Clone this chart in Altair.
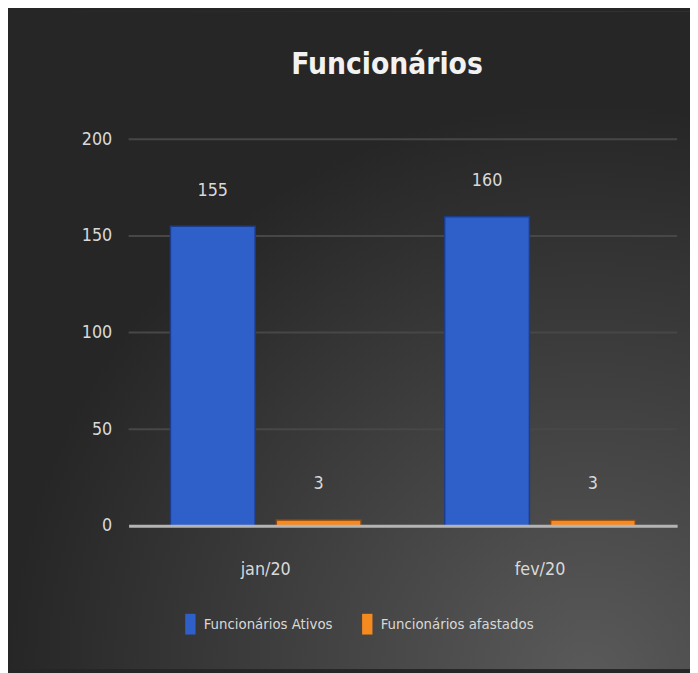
import altair as alt
import pandas as pd

months = ["jan/20", "fev/20"]
series = ["Funcionários Ativos", "Funcionários afastados"]
ativos = [155, 160]
afastados = [3, 3]
y_ticks = [0, 50, 100, 150, 200]

rows = []
for i, m in enumerate(months):
    rows.append({"mes": m, "serie": series[0], "valor": ativos[i]})
    rows.append({"mes": m, "serie": series[1], "valor": afastados[i]})
df = pd.DataFrame(rows)
grid_df = pd.DataFrame({"v": y_ticks[1:]})

FONT = "Liberation Sans Narrow, DejaVu Sans Condensed, Arial Narrow, sans-serif"
W, H = 555, 391
PAD = {"left": 122, "top": 129, "right": 13, "bottom": 145}

bg_grad = alt.Gradient(
    gradient="radial",
    stops=[alt.GradientStop(color="#5a5a5a", offset=0),
           alt.GradientStop(color="#262626", offset=1)],
    x1=0.85, y1=1.0, r1=0.0, x2=0.85, y2=1.0, r2=0.85,
)

background = alt.Chart(pd.DataFrame({"a": [0]})).mark_rect(fill=bg_grad).encode(
    x=alt.value(-PAD["left"]), x2=alt.value(W + PAD["right"]),
    y=alt.value(-PAD["top"]), y2=alt.value(H + PAD["bottom"]),
)

y_scale = alt.Scale(domain=[0, 200])

grid = alt.Chart(grid_df).mark_rule(color="#474747", strokeWidth=2).encode(
    y=alt.Y("v:Q", scale=y_scale, title=None),
)

x_enc = alt.X("mes:N", sort=months, title=None,
              scale=alt.Scale(paddingInner=0.305, paddingOuter=0.1525),
              axis=alt.Axis(labelAngle=0, labelPadding=35, ticks=False, zindex=1,
                            domainColor="#b4b4b4", domainWidth=3,
                            labelFontSize=18, labelColor="#d9d9d9", labelFont=FONT))
xoff = alt.XOffset("serie:N", sort=series,
                   scale=alt.Scale(paddingInner=0.2, paddingOuter=0))

bars = alt.Chart(df).mark_bar(strokeWidth=1.5).encode(
    x=x_enc,
    xOffset=xoff,
    y=alt.Y("valor:Q", title=None, scale=y_scale,
            axis=alt.Axis(values=y_ticks, domain=False, ticks=False, grid=False,
                          labelPadding=17, zindex=1,
                          labelFontSize=18, labelColor="#d9d9d9", labelFont=FONT)),
    color=alt.Color("serie:N", sort=series,
                    scale=alt.Scale(domain=series, range=["#2f5fc9", "#f58a1f"]),
                    legend=alt.Legend(title=None, orient="none", direction="horizontal",
                                      legendX=52, legendY=480,
                                      symbolType="M-0.5,-1H0.5V1H-0.5Z",
                                      symbolSize=440, symbolStrokeWidth=0,
                                      labelFontSize=15, labelColor="#d9d9d9",
                                      labelFont=FONT, labelOffset=3, labelLimit=400,
                                      columnPadding=24, padding=0)),
    stroke=alt.Stroke("serie:N", sort=series,
                      scale=alt.Scale(domain=series, range=["#1c3c8c", "#8a4410"]),
                      legend=None),
)

labels = alt.Chart(df).mark_text(baseline="bottom", dy=-27, fontSize=18,
                                 color="#d9d9d9", font=FONT).encode(
    x=alt.X("mes:N", sort=months),
    xOffset=alt.XOffset("serie:N", sort=series),
    y=alt.Y("valor:Q", scale=y_scale),
    text=alt.Text("valor:Q"),
)

chart = alt.layer(background, grid, bars, labels).properties(
    width=W, height=H,
    padding=PAD,
    autosize=alt.AutoSizeParams(type="none"),
    background="#262626",
    title=alt.TitleParams("Funcionários", fontSize=30, fontWeight="bold",
                          color="#f2f2f2", font=FONT, anchor="middle",
                          frame="group", baseline="alphabetic", offset=-93, dx=-16),
).configure_view(stroke=None)

chart.save("out.html", embed_options={"renderer": "svg", "actions": False})
